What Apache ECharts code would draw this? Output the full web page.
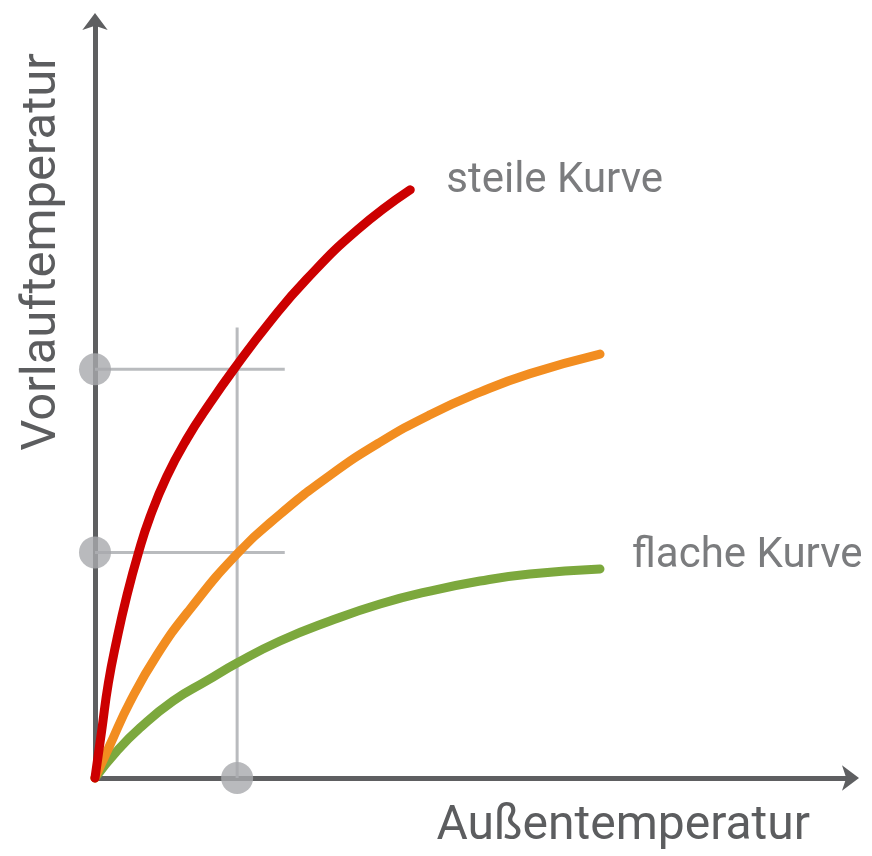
<!DOCTYPE html>
<html lang="de">
  <head>
    <meta charset="UTF-8" />
    <title>Heizkurve</title>
    <script src="https://cdn.jsdelivr.net/npm/echarts@6/dist/echarts.min.js"></script>
    <style>
      body { margin: 0; background: #fff; }
    </style>
  </head>
  <body>
    <div id="main" style="width: 872px; height: 856px;"></div>
    <script type="text/javascript">
      var chart = echarts.init(document.getElementById('main'))

      // Kurven (x = Außentemperatur, y = Vorlauftemperatur, beliebige Einheit 0..100)
      var steileKurve = [
        [0, 0], [0.89, 6.3], [1.76, 12.5], [2.87, 18.2], [4.19, 24], [5.73, 29.7],
        [7.28, 34.5], [9.48, 39.8], [12.1, 44.7], [15.2, 49.5], [18.3, 53.9],
        [23.1, 60.2], [28, 65.9], [34.7, 72.4], [41.7, 77.7]
      ]
      var mittlereKurve = [
        [0, 0], [1.98, 4.36], [4.63, 10.04], [8.2, 16.25], [12.57, 22.3],
        [18.78, 29.59], [24.47, 34.82], [31.08, 39.98], [37.7, 44.35],
        [44.31, 47.99], [50.93, 50.97], [57.54, 53.42], [66.8, 56]
      ]
      var flacheKurve = [
        [0, 0], [2.91, 3.57], [5.95, 6.61], [10.32, 10.17], [14.81, 12.85],
        [18.78, 15.19], [24.47, 18.1], [31.08, 20.74], [37.7, 22.99],
        [44.31, 24.7], [50.93, 26.02], [57.54, 26.95], [66.8, 27.6]
      ]

      // Ablesehilfe
      var aussenWert = 18.8
      var vorlaufWerte = [54, 29.8]
      var hilfslinieEndeX = 25.1
      var hilfslinieEndeY = 59.5

      var axisStyle = {
        show: true,
        symbol: ['none', 'arrow'],
        symbolSize: [19, 17],
        symbolOffset: [0, 8],
        lineStyle: { color: '#5e5f61', width: 5 }
      }

      var helpLines = [
        [[aussenWert, 0], [aussenWert, hilfslinieEndeY]],
        [[0, vorlaufWerte[0]], [hilfslinieEndeX, vorlaufWerte[0]]],
        [[0, vorlaufWerte[1]], [hilfslinieEndeX, vorlaufWerte[1]]]
      ].map(function (d) {
        return {
          type: 'line',
          data: d,
          showSymbol: false,
          silent: true,
          clip: false,
          lineStyle: { color: '#b9bbbe', width: 3 },
          z: 1
        }
      })

      function curve(data, color, label, offset) {
        return {
          type: 'line',
          data: data,
          smooth: true,
          showSymbol: false,
          clip: false,
          lineStyle: { color: color, width: 9, cap: 'round' },
          endLabel: label
            ? {
                show: true,
                formatter: label,
                offset: offset,
                color: '#7b7c7e',
                fontSize: 42,
                fontFamily: 'Roboto'
              }
            : { show: false },
          z: 3
        }
      }

      var option = {
        animation: false,
        grid: { left: 95, right: 21, top: 21, bottom: 78 },
        xAxis: {
          type: 'value',
          min: 0,
          max: 100,
          axisLine: axisStyle,
          axisTick: { show: false },
          axisLabel: { show: false },
          splitLine: { show: false }
        },
        yAxis: {
          type: 'value',
          min: 0,
          max: 100,
          axisLine: axisStyle,
          axisTick: { show: false },
          axisLabel: { show: false },
          splitLine: { show: false }
        },
        graphic: [
          {
            type: 'text',
            x: 810,
            y: 827,
            style: {
              text: 'Außentemperatur',
              fill: '#5c5d5f',
              font: '48px Roboto',
              align: 'right',
              verticalAlign: 'middle'
            }
          },
          {
            type: 'text',
            x: 43,
            y: 252,
            rotation: Math.PI / 2,
            style: {
              text: 'Vorlauftemperatur',
              fill: '#5c5d5f',
              font: '49px Roboto',
              align: 'center',
              verticalAlign: 'middle'
            }
          }
        ],
        series: helpLines.concat([
          curve(flacheKurve, '#7ca83d', 'flache Kurve', [24, -13]),
          curve(mittlereKurve, '#f28d20', null),
          curve(steileKurve, '#cc0000', 'steile Kurve', [28, -8]),
          {
            type: 'scatter',
            data: [[0, vorlaufWerte[0]], [0, vorlaufWerte[1]], [aussenWert, 0]],
            symbolSize: 32,
            clip: false,
            silent: true,
            itemStyle: { color: '#a7a9ac' },
            z: 4
          }
        ])
      }

      chart.setOption(option)
    </script>
  </body>
</html>
